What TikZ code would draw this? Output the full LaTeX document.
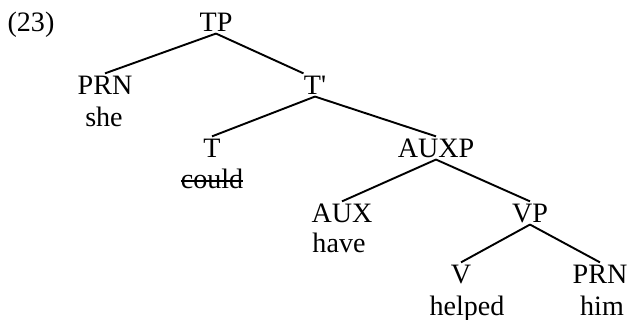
\documentclass[tikz,border=0pt]{standalone}
\usepackage{fontspec}
\setmainfont{Liberation Serif}
\newcommand{\struck}[1]{\setbox0\hbox{#1}\rlap{\raisebox{0.21em}{\rule{\wd0}{0.9pt}}}\box0}
\tikzset{
  cat/.style={inner sep=0pt, anchor=base, text height=0.95em, text depth=0.1em},
  word/.style={inner sep=0pt, anchor=base},
  branch/.style={line width=0.9pt}
}
\begin{document}
\begin{tikzpicture}[x=0.47pt,y=-0.47pt,font=\fontsize{13.2}{16}\selectfont]
    \useasboundingbox (0,0) rectangle (629,320);
    \node[word] (ex) at (31,31) {(23)};
    % labels
    \node[cat] (TP) at (216,31) {TP};
    \node[cat] (PRNa) at (105,94) {PRN};
    \node[cat] (Tbar) at (315,94) {T\textquotesingle};
    \node[cat] (T) at (212,157) {T};
    \node[cat] (AUXP) at (436,157) {AUXP};
    \node[cat] (AUX) at (342,222) {AUX};
    \node[cat] (VP) at (530,222) {VP};
    \node[cat] (V) at (461,283) {V};
    \node[cat] (PRNb) at (600,283) {PRN};
    % words
    \node[word] (she) at (104,126) {she};
    \node[word] (could) at (212,188) {\struck{could}};
    \node[word] (have) at (339,252) {have};
    \node[word] (helped) at (467,315) {helped};
    \node[word] (him) at (602,315) {him};
    % branches
    \draw[branch] (TP.south) -- (PRNa.north);
    \draw[branch] (TP.south) -- (Tbar.north west);
    \draw[branch] (Tbar.south) -- (T.north);
    \draw[branch] (Tbar.south) -- (AUXP.north);
    \draw[branch] (AUXP.south) -- (AUX.north);
    \draw[branch] (AUXP.south) -- (VP.north);
    \draw[branch] (VP.south) -- (V.north);
    \draw[branch] (VP.south) -- (PRNb.north);
\end{tikzpicture}
\end{document}
